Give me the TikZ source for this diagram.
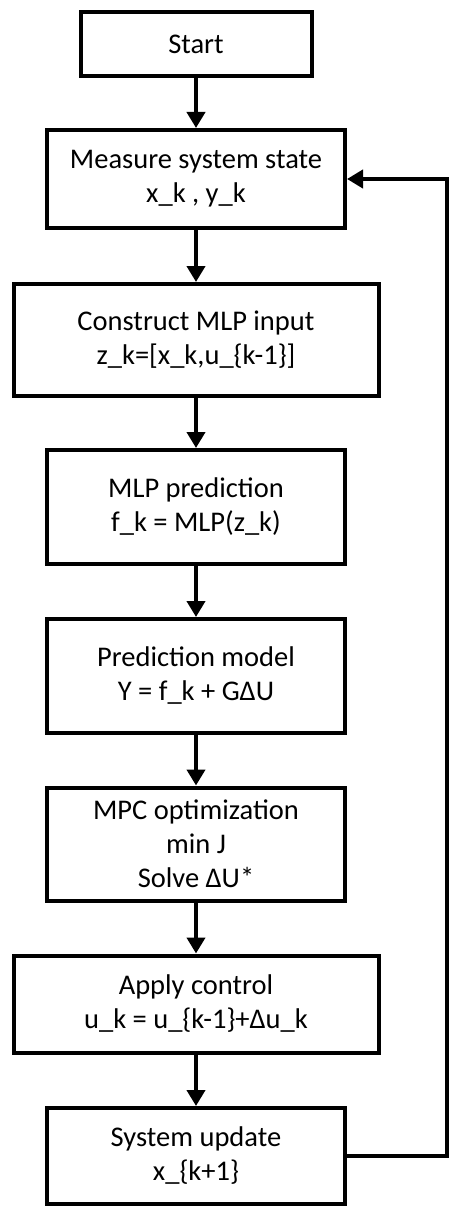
\documentclass[tikz,border=0pt]{standalone}
\usepackage{fontspec}
\setmainfont{Carlito}
\usetikzlibrary{arrows.meta}

\begin{document}
\begin{tikzpicture}[x=1pt,y=-1pt,
	box/.style={draw=black, line width=4pt, align=center, inner sep=0pt,
		font=\fontsize{28.5pt}{34pt}\selectfont},
	flow/.style={line width=4pt, -{Triangle[width=18pt,length=16pt]}}]
	\useasboundingbox (0,0) rectangle (458,1217);
	
	\node[box, minimum width=231pt, minimum height=64pt] (start) at (196,44) {Start};
	\node[box, minimum width=298pt, minimum height=98pt] (meas) at (196,179) {Measure system state\\x\_k , y\_k};
	\node[box, minimum width=365pt, minimum height=112pt] (mlpin) at (196,340) {Construct MLP input\\z\_k=[x\_k,u\_\{k-1\}]};
	\node[box, minimum width=298pt, minimum height=114pt] (mlp) at (196,507) {MLP prediction\\f\_k = MLP(z\_k)};
	\node[box, minimum width=298pt, minimum height=114pt] (pred) at (196,676) {Prediction model\\Y = f\_k + GΔU};
	\node[box, minimum width=298pt, minimum height=113pt] (mpc) at (196,844) {MPC optimization\\min J\\Solve ΔU*};
	\node[box, minimum width=365pt, minimum height=97pt] (apply) at (196,1004) {Apply control\\u\_k = u\_\{k-1\}+Δu\_k};
	\node[box, minimum width=298pt, minimum height=96pt] (upd) at (196,1156) {System update\\x\_\{k+1\}};
	
	\draw[flow] (start) -- (meas);
	\draw[flow] (meas) -- (mlpin);
	\draw[flow] (mlpin) -- (mlp);
	\draw[flow] (mlp) -- (pred);
	\draw[flow] (pred) -- (mpc);
	\draw[flow] (mpc) -- (apply);
	\draw[flow] (apply) -- (upd);
	
	\coordinate (loop) at (447,0);
	\draw[flow] (upd.east) -- (upd.east -| loop) |- (meas.east);
\end{tikzpicture}
\end{document}
